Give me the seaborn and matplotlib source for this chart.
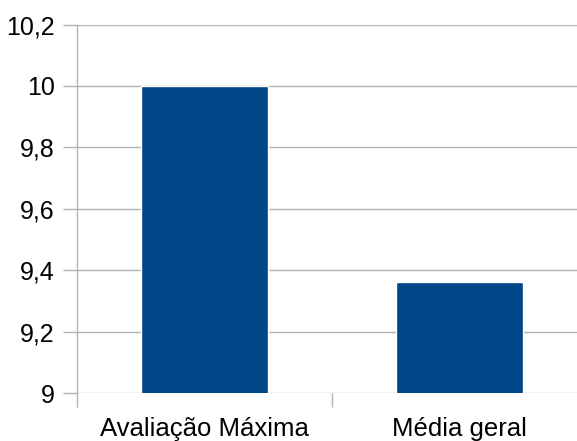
import matplotlib
matplotlib.use("Agg")
import matplotlib.pyplot as plt
import seaborn as sns
import pandas as pd
from matplotlib.ticker import FixedLocator, FuncFormatter

# dados do gráfico
categorias = ["Avaliação Máxima", "Média geral"]
valores = [10.0, 9.36]
yticks = [9.0, 9.2, 9.4, 9.6, 9.8, 10.0, 10.2]

df = pd.DataFrame({"categoria": categorias, "valor": valores})

sns.set_style("white")
plt.rcParams['font.family'] = ['Liberation Sans', 'DejaVu Sans']

fig = plt.figure(figsize=(5.77, 4.41), dpi=100)
W, H = 577, 441
ax = fig.add_axes([77 / W, (H - 393) / H, 510 / W, (393 - 24.5) / H])

sns.barplot(data=df, x="categoria", y="valor", color="#004586",
            saturation=1, width=0.495, ax=ax, zorder=3)

ax.set_xlim(-0.5, 1.5)
ax.set_ylim(9, 10.2)
ax.set_yticks(yticks)
ax.yaxis.set_major_formatter(FuncFormatter(lambda v, p: f"{v:g}".replace(".", ",")))
ax.grid(axis="y", color="#b3b3b3", linewidth=1, zorder=0)

# ticks do eixo x nas fronteiras das categorias
ax.xaxis.set_minor_locator(FixedLocator([-0.5, 0.5, 1.5]))
ax.tick_params(axis="x", which="major", bottom=True, length=0, pad=17,
               labelsize=18.5, labelcolor="black")
ax.tick_params(axis="x", which="minor", bottom=True, length=10, width=1,
               color="#b3b3b3", direction="out")
ax.tick_params(axis="y", left=True, length=10, width=1, color="#b3b3b3",
               direction="out", pad=6, labelsize=18, labelcolor="black")

for s in ["top", "right", "bottom"]:
    ax.spines[s].set_visible(False)
ax.spines["left"].set_color("#b3b3b3")
ax.spines["left"].set_linewidth(1)

ax.set_xlabel("")
ax.set_ylabel("")

fig.savefig("out.png", dpi=100)
